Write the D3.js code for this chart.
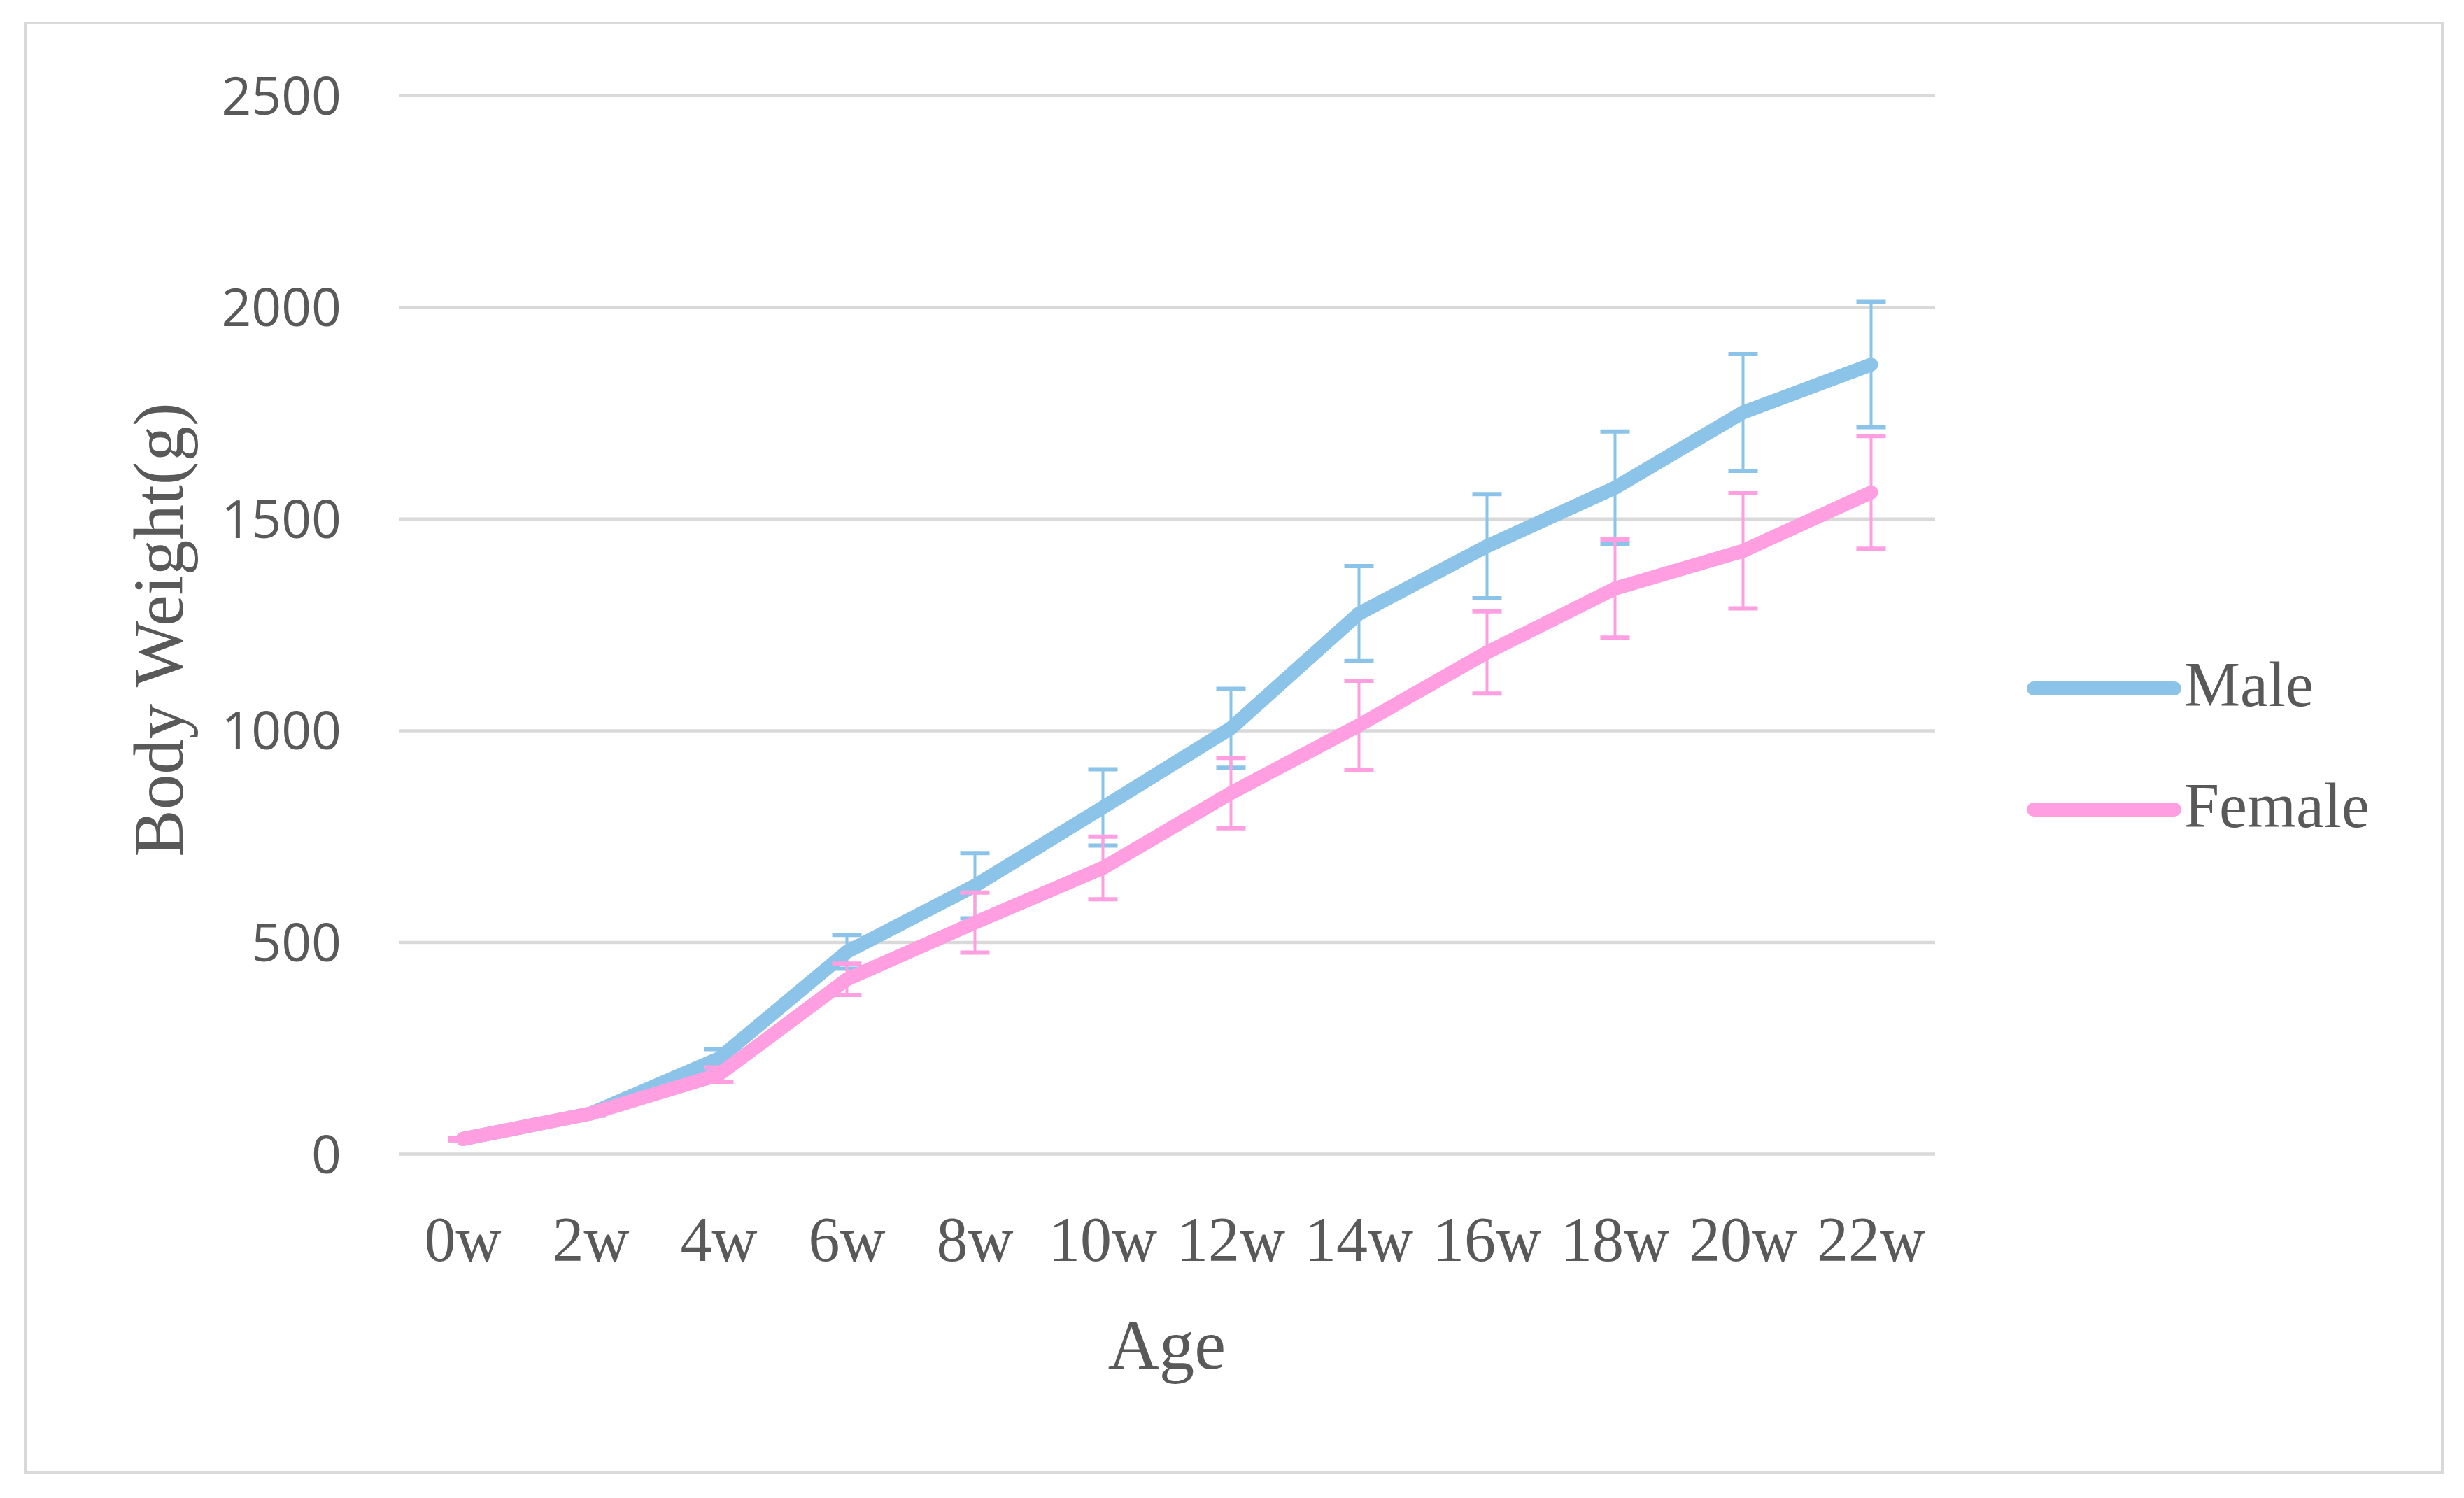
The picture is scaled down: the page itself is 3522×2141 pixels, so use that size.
<!DOCTYPE html>
<html>
<head>
<meta charset="utf-8">
<script src="https://cdn.jsdelivr.net/npm/d3@7"></script>
<style>
html,body{margin:0;padding:0;background:#fff;}
svg{display:block;}
</style>
</head>
<body>
<svg id="chart" width="3522" height="2141"></svg>
<script>
const ages = ["0w","2w","4w","6w","8w","10w","12w","14w","16w","18w","20w","22w"];
const maleMean   = [35, 95, 225, 477, 633, 818, 1005, 1276, 1435, 1573, 1751, 1864];
const maleErr    = [3, 5, 22, 40, 77, 90, 93, 112, 123, 133, 138, 148];
const femaleMean = [35, 95, 187, 412, 546, 675, 852, 1012, 1184, 1335, 1424, 1562];
const femaleErr  = [3, 5, 17, 37, 71, 74, 83, 105, 97, 116, 136, 133];
const yTicks = [0, 500, 1000, 1500, 2000, 2500];
const seriesNames = ["Male", "Female"];
const seriesColors = ["#8CC3E8", "#FF9EE0"];

(function(){
const svg = d3.select("#chart");
svg.append("rect").attr("x",37).attr("y",33).attr("width",3454).attr("height",2072)
  .attr("fill","#fff").attr("stroke","#d9d9d9").attr("stroke-width",4);

const pL = 570, pR = 2766, pT = 136.2, pB = 1649;
const x = d3.scaleBand().domain(ages).range([pL, pR]).padding(0);
const y = d3.scaleLinear().domain([0, 2500]).range([pB, pT]);
const cx = d => x(d) + x.bandwidth()/2;

const yAxis = d3.axisLeft(y).tickValues(yTicks).tickSize(-(pR-pL)).tickPadding(82).tickFormat(d3.format("d"));
const gy = svg.append("g").attr("transform", `translate(${pL},0)`).call(yAxis);
gy.select(".domain").remove();
gy.selectAll(".tick line").attr("stroke","#d9d9d9").attr("stroke-width",4.5);
gy.selectAll(".tick text").attr("fill","#595959").attr("font-family","'Open Sans', sans-serif")
  .attr("font-size",75).attr("dy","0.36em");

const xAxis = d3.axisBottom(x).tickSize(0).tickPadding(0);
const gx = svg.append("g").attr("transform", `translate(0,${pB})`).call(xAxis);
gx.select(".domain").remove();
gx.selectAll(".tick text").attr("fill","#595959").attr("font-family","'Liberation Serif', serif")
  .attr("font-size",90).attr("dy",0).attr("y",153);

svg.append("text").attr("x",(pL+pR)/2).attr("y",1956).attr("text-anchor","middle")
  .attr("fill","#595959").attr("font-family","'Liberation Serif', serif").attr("font-size",101).text("Age");
svg.append("text").attr("transform","translate(261,900) rotate(-90)").attr("text-anchor","middle")
  .attr("fill","#595959").attr("font-family","'Liberation Serif', serif").attr("font-size",101).text("Body Weight(g)");

const line = d3.line().x(d => cx(d.age)).y(d => y(d.v)).curve(d3.curveLinear);
const series = [
  ages.map((a,i)=>({age:a, v:maleMean[i], e:maleErr[i]})),
  ages.map((a,i)=>({age:a, v:femaleMean[i], e:femaleErr[i]}))
];
series.forEach((data, si) => {
  const col = seriesColors[si];
  svg.append("path").datum(data).attr("d", line).attr("fill","none").attr("stroke",col)
    .attr("stroke-width",20).attr("stroke-linecap","round").attr("stroke-linejoin","round");
  const g = svg.append("g").attr("stroke", col);
  g.selectAll("line.v").data(data).join("line").attr("class","v")
    .attr("x1", d=>cx(d.age)).attr("x2", d=>cx(d.age))
    .attr("y1", d=>y(d.v+d.e)).attr("y2", d=>y(d.v-d.e)).attr("stroke-width",4);
  g.selectAll("line.t").data(data).join("line").attr("class","t")
    .attr("x1", d=>cx(d.age)-21).attr("x2", d=>cx(d.age)+21)
    .attr("y1", d=>y(d.v+d.e)).attr("y2", d=>y(d.v+d.e)).attr("stroke-width",6);
  g.selectAll("line.b").data(data).join("line").attr("class","b")
    .attr("x1", d=>cx(d.age)-21).attr("x2", d=>cx(d.age)+21)
    .attr("y1", d=>y(d.v-d.e)).attr("y2", d=>y(d.v-d.e)).attr("stroke-width",6);
});

const legY = [984, 1157];
seriesNames.forEach((n, i) => {
  svg.append("line").attr("x1",2907).attr("x2",3108).attr("y1",legY[i]).attr("y2",legY[i])
    .attr("stroke",seriesColors[i]).attr("stroke-width",20).attr("stroke-linecap","round");
  svg.append("text").attr("x",3122).attr("y",legY[i]+25).attr("fill","#595959")
    .attr("font-family","'Liberation Serif', serif").attr("font-size",90).text(n);
});
})();
</script>
</body>
</html>
